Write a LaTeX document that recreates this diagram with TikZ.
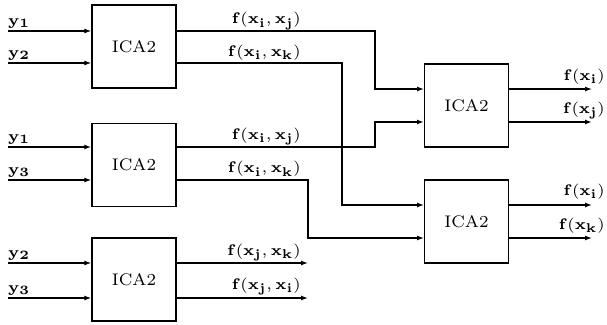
\documentclass[tikz,border=0pt]{standalone}
\usepackage{graphicx}
\usetikzlibrary{arrows.meta}
% small design sizes blown up, for the heavy look of the labels
\newcommand\lbl[1]{\scalebox{2.55}{\fontsize{6}{7}\selectfont$\mathbf{#1}$}}
\newcommand\icatext{\scalebox{2.4}{\fontsize{7}{8}\selectfont ICA2}}
\begin{document}
\begin{tikzpicture}[x=1pt,y=-1pt,
  block/.style={draw,line width=1.4pt,minimum width=84pt,minimum height=83pt,inner sep=0pt},
  wire/.style={line width=1.3pt},
  thickwire/.style={line width=2pt},
  arr/.style={-{Latex[length=7pt,width=5pt]}},
  inlab/.style={anchor=base west,inner sep=0pt},
  outlab/.style={anchor=base east,inner sep=0pt}]
\useasboundingbox (0,0) rectangle (607,324);

% processing blocks
\node[block] (b1) at (134,46.5) {\icatext};
\node[block] (b2) at (134,165) {\icatext};
\node[block] (b3) at (134,279.5) {\icatext};
\node[block] (b4) at (466.5,105.5) {\icatext};
\node[block] (b5) at (466.5,221.5) {\icatext};

% free ends of the input lines
\coordinate (y11) at (8,31);
\coordinate (y12) at (8,63);
\coordinate (y21) at (8,147);
\coordinate (y23) at (8,180);
\coordinate (y32) at (8,263);
\coordinate (y33) at (8,298);

% entry points of the second stage
\coordinate (p4a) at (424,89);
\coordinate (p4b) at (424,122);
\coordinate (p5a) at (424,205);
\coordinate (p5b) at (424,238);

% free ends of the output lines
\coordinate (o3a) at (308,263);
\coordinate (o3b) at (308,298);
\coordinate (o4a) at (592,89);
\coordinate (o4b) at (592,122);
\coordinate (o5a) at (592,205);
\coordinate (o5b) at (592,238);

% inputs
\draw[wire,arr] (y11) -- (y11 -| b1.west);
\draw[wire,arr] (y12) -- (y12 -| b1.west);
\draw[thickwire,arr] (y21) -- (y21 -| b2.west);
\draw[wire,arr] (y23) -- (y23 -| b2.west);
\draw[wire,arr] (y32) -- (y32 -| b3.west);
\draw[wire,arr] (y33) -- (y33 -| b3.west);

% first stage to second stage
\draw[wire,arr] (b1.east |- y11) -- (375,31) |- (p4a);
\draw[wire,arr] (b1.east |- y12) -- (342,63) |- (p5a);
\draw[thickwire,arr] (b2.east |- y21) -- (375,147) |- (p4b);
\draw[wire,arr] (b2.east |- y23) -- (308,180) |- (p5b);
\draw[wire,arr] (b3.east |- y32) -- (o3a);
\draw[wire,arr] (b3.east |- y33) -- (o3b);

% outputs of the second stage
\draw[wire,arr] (b4.east |- o4a) -- (o4a);
\draw[thickwire,arr] (b4.east |- o4b) -- (o4b);
\draw[wire,arr] (b5.east |- o5a) -- (o5a);
\draw[wire,arr] (b5.east |- o5b) -- (o5b);

% input labels
\node[inlab] (l11) at (8,25) {\lbl{y_1}};
\node[inlab] (l12) at (8,57) {\lbl{y_2}};
\node[inlab] (l21) at (8,141) {\lbl{y_1}};
\node[inlab] (l23) at (8,174) {\lbl{y_3}};
\node[inlab] (l32) at (8,257) {\lbl{y_2}};
\node[inlab] (l33) at (8,292) {\lbl{y_3}};

% output labels of the first stage
\node[outlab] (m11) at (301,23.5) {\lbl{f(x_i,x_j)}};
\node[outlab] (m12) at (301,56) {\lbl{f(x_i,x_k)}};
\node[outlab] (m21) at (301,139) {\lbl{f(x_i,x_j)}};
\node[outlab] (m23) at (301,172.5) {\lbl{f(x_i,x_k)}};
\node[outlab] (m32) at (301,255) {\lbl{f(x_j,x_k)}};
\node[outlab] (m33) at (301,289) {\lbl{f(x_j,x_i)}};

% output labels of the second stage
\node[outlab] (n4a) at (605,80) {\lbl{f(x_i)}};
\node[outlab] (n4b) at (605,113) {\lbl{f(x_j)}};
\node[outlab] (n5a) at (605,195) {\lbl{f(x_i)}};
\node[outlab] (n5b) at (605,229) {\lbl{f(x_k)}};
\end{tikzpicture}
\end{document}
